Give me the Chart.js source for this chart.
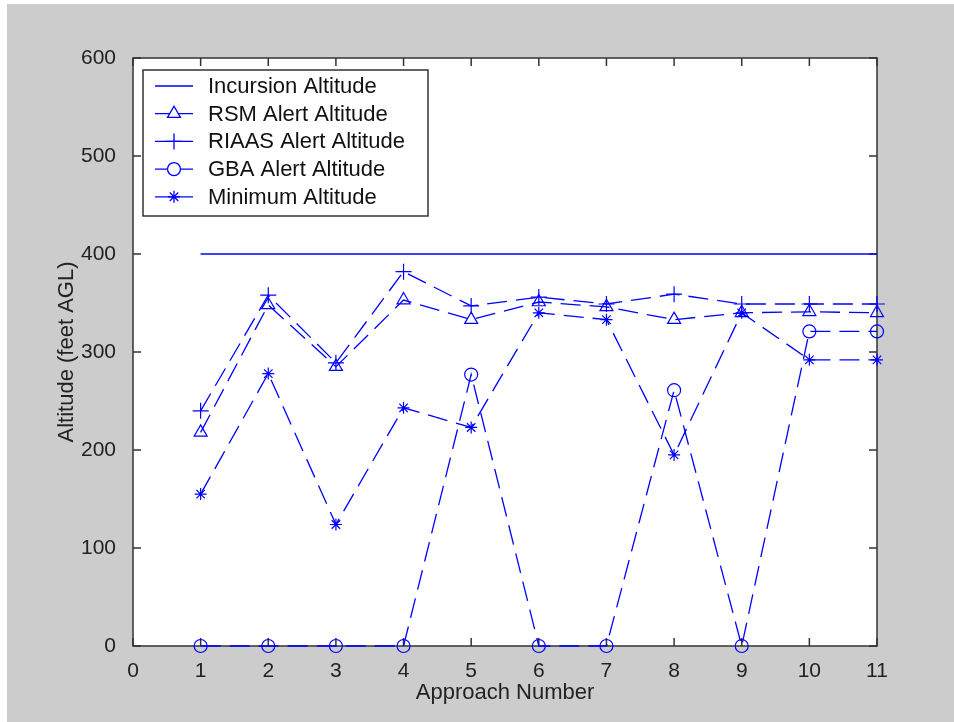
<!DOCTYPE html>
<html>
<head>
<meta charset="utf-8">
<script src="https://cdn.jsdelivr.net/npm/chart.js@4/dist/chart.umd.min.js"></script>
<style>
  html, body { margin: 0; padding: 0; background: #ffffff; }
  #wrap { position: absolute; left: 7px; top: 4px; width: 947px; height: 718px; background: #cccccc; }
</style>
</head>
<body>
<div id="wrap"><canvas id="altChart" width="947" height="718"></canvas></div>
<script>
// approach numbers and altitudes (feet AGL)
const approach = [1, 2, 3, 4, 5, 6, 7, 8, 9, 10, 11];
const incursion = [400, 400, 400, 400, 400, 400, 400, 400, 400, 400, 400];
const rsmAlert = [218, 348, 285, 353, 333, 351, 346, 333, 340, 341, 340];
const riaasAlert = [240, 358, 289, 382, 347, 356, 349, 359, 349, 349, 349];
const gbaAlert = [0, 0, 0, 0, 277, 0, 0, 261, 0, 321, 321];
const minAltitude = [155, 278, 124, 243, 223, 340, 333, 195, 340, 292, 292];

const xTicks = [0, 1, 2, 3, 4, 5, 6, 7, 8, 9, 10, 11];
const yTicks = [0, 100, 200, 300, 400, 500, 600];

const BLUE = '#0000ff';
const FONT = '"Liberation Sans", Arial, sans-serif';

function pts(ys) {
    return approach.map((x, i) => ({ x: x, y: ys[i] }));
}

function series(label, ys, style, size, dashed) {
    return {
        label: label,
        data: pts(ys),
        borderColor: BLUE,
        borderWidth: 1.3,
        borderDash: dashed ? [20, 9] : [],
        pointStyle: style || 'circle',
        pointRadius: size,
        pointBorderColor: BLUE,
        pointBackgroundColor: 'rgba(0,0,0,0)',
        pointBorderWidth: 1.2,
        clip: 10,
        tension: 0
    };
}

// white plot area, black frame, inward ticks on all sides (under the lines)
const frameAndTicks = {
    id: 'frameAndTicks',
    beforeDatasetsDraw(chart) {
        const { ctx, chartArea: a, scales } = chart;
        const len = 8;
        ctx.save();
        ctx.fillStyle = '#ffffff';
        ctx.fillRect(a.left, a.top, a.right - a.left, a.bottom - a.top);
        ctx.strokeStyle = '#333333';
        ctx.lineWidth = 1.5;
        ctx.strokeRect(a.left, a.top, a.right - a.left, a.bottom - a.top);
        ctx.beginPath();
        xTicks.forEach(v => {
            const x = scales.x.getPixelForValue(v);
            ctx.moveTo(x, a.bottom); ctx.lineTo(x, a.bottom - len);
            ctx.moveTo(x, a.top); ctx.lineTo(x, a.top + len);
        });
        yTicks.forEach(v => {
            const y = scales.y.getPixelForValue(v);
            ctx.moveTo(a.left, y); ctx.lineTo(a.left + len, y);
            ctx.moveTo(a.right, y); ctx.lineTo(a.right - len, y);
        });
        ctx.stroke();
        ctx.restore();
    }
};

// matlab-style legend box inside the axes
const boxLegend = {
    id: 'boxLegend',
    afterDraw(chart) {
        const { ctx, chartArea: a } = chart;
        const left = a.left + 10, top = a.top + 12;
        const w = 285, h = 146, rowH = 27.7;
        ctx.save();
        ctx.fillStyle = '#ffffff';
        ctx.fillRect(left, top, w, h);
        ctx.strokeStyle = '#333333';
        ctx.lineWidth = 1.5;
        ctx.strokeRect(left, top, w, h);
        ctx.textBaseline = 'middle';
        chart.data.datasets.forEach((ds, i) => {
            const y = top + 16 + i * rowH;
            ctx.strokeStyle = ds.borderColor;
            ctx.lineWidth = 1.3;
            ctx.setLineDash([]);
            ctx.beginPath();
            ctx.moveTo(left + 12, y);
            ctx.lineTo(left + 50, y);
            ctx.stroke();
            if (ds.pointRadius > 0) {
                ctx.fillStyle = '#ffffff';
                ctx.strokeStyle = ds.borderColor;
                Chart.helpers.drawPoint(ctx, {
                    pointStyle: ds.pointStyle, radius: ds.pointRadius,
                    rotation: 0, borderWidth: 1.2
                }, left + 31, y);
            }
            ctx.font = '22px ' + FONT;
            ctx.fillStyle = '#111111';
            ctx.fillText(ds.label, left + 65, y + 1);
        });
        ctx.restore();
    }
};

const ctxAlt = document.getElementById('altChart').getContext('2d');
const altChart = new Chart(ctxAlt, {
    type: 'line',
    data: {
        datasets: [
            series('Incursion Altitude', incursion, null, 0, false),
            series('RSM Alert Altitude', rsmAlert, 'triangle', 7.5, true),
            series('RIAAS Alert Altitude', riaasAlert, 'cross', 8, true),
            series('GBA Alert Altitude', gbaAlert, 'circle', 6.5, true),
            series('Minimum Altitude', minAltitude, 'star', 6, true)
        ]
    },
    options: {
        responsive: false,
        animation: false,
        layout: { padding: { left: 40, right: 77, top: 54, bottom: 0 } },
        plugins: {
            legend: { display: false },
            tooltip: { enabled: false }
        },
        scales: {
            x: {
                type: 'linear',
                min: 0,
                max: 11,
                afterFit(scale) { scale.height = 76; },
                afterBuildTicks(scale) { scale.ticks = xTicks.map(v => ({ value: v })); },
                grid: { display: false },
                border: { display: false },
                ticks: { color: '#222222', font: { family: FONT, size: 21 }, padding: 5 },
                title: {
                    display: true, text: 'Approach Number', color: '#222222',
                    font: { family: FONT, size: 22 }, padding: { top: 0, bottom: 16 }
                }
            },
            y: {
                min: 0,
                max: 600,
                afterFit(scale) { scale.width = 86; },
                afterBuildTicks(scale) { scale.ticks = yTicks.map(v => ({ value: v })); },
                grid: { display: false },
                border: { display: false },
                ticks: { color: '#222222', font: { family: FONT, size: 21 }, padding: 9 },
                title: {
                    display: true, text: 'Altitude (feet AGL)', color: '#222222',
                    font: { family: FONT, size: 22 }, padding: { top: 7, bottom: 0 }
                }
            }
        }
    },
    plugins: [frameAndTicks, boxLegend]
});
</script>
</body>
</html>
